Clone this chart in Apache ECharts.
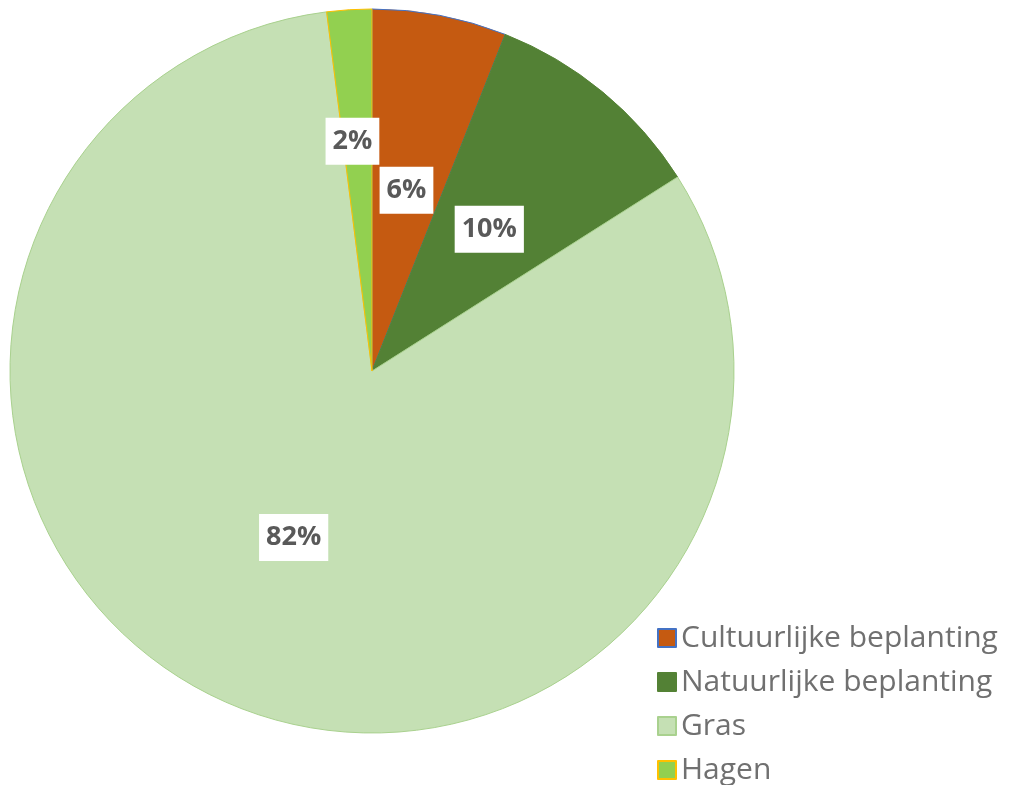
<!DOCTYPE html>
<html>
<head>
<meta charset="utf-8">
<script src="https://cdn.jsdelivr.net/npm/echarts@6/dist/echarts.min.js"></script>
<style>
  html, body { margin: 0; padding: 0; background: #fff; }
  #chart { width: 1020px; height: 785px; }
</style>
</head>
<body>
<div id="chart"></div>
<script>
// categorieën en aandelen (%)
const categories = ['Cultuurlijke beplanting', 'Natuurlijke beplanting', 'Gras', 'Hagen'];
const values = [6, 10, 82, 2];
const colors = ['#C55A11', '#538135', '#C5E0B4', '#92D050'];
const borders = ['#4472C4', '#548235', '#A9D18E', '#FFC000'];

const chart = echarts.init(document.getElementById('chart'));

chart.setOption({
  backgroundColor: '#ffffff',
  animation: false,
  legend: {
    orient: 'vertical',
    left: 657,
    top: 623,
    height: 220,
    padding: 0,
    itemWidth: 18,
    itemHeight: 18,
    itemGap: 14,
    icon: 'rect',
    textStyle: { color: '#707070', fontSize: 30, lineHeight: 30, fontFamily: 'Open Sans' },
    data: categories
  },
  series: [{
    type: 'pie',
    center: [372, 371],
    radius: 362,
    startAngle: 90,
    clockwise: true,
    avoidLabelOverlap: false,
    label: {
      show: true,
      position: 'inside',
      formatter: '{d}%',
      color: '#595959',
      fontSize: 27,
      fontWeight: 'bold',
      fontFamily: 'Open Sans',
      backgroundColor: '#ffffff',
      padding: [11, 7, 9, 7]
    },
    labelLine: { show: false },
    emphasis: { disabled: true },
    data: categories.map((name, i) => ({
      name,
      value: values[i],
      itemStyle: { color: colors[i], borderColor: borders[i], borderWidth: 1 },
      // Hagen-label iets omhoog geschoven, zoals in het origineel
      label: name === 'Hagen' ? { offset: [-8, -46] } : undefined
    }))
  }]
});
</script>
</body>
</html>
